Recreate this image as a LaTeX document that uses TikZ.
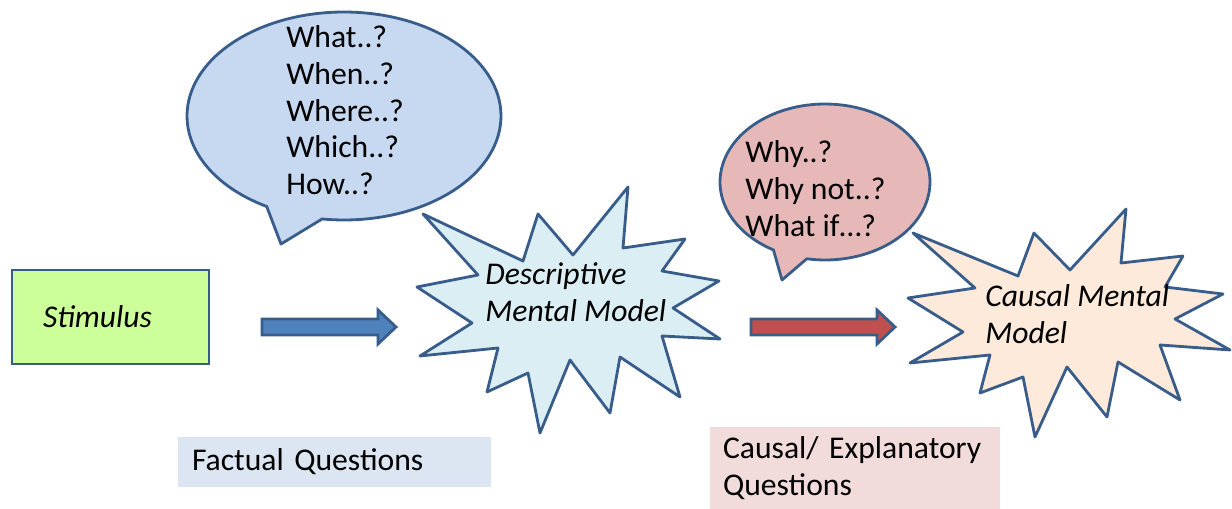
\documentclass[tikz,border=0pt]{standalone}
\usepackage{fontspec}
\setmainfont{Carlito}
\usetikzlibrary{calc}

\definecolor{outline}{HTML}{385D8A}
\definecolor{factblue}{HTML}{C6D9F1}
\definecolor{whypink}{HTML}{E6B9B8}
\definecolor{descfill}{HTML}{DBEEF4}
\definecolor{causfill}{HTML}{FDEADA}
\definecolor{stimgreen}{HTML}{CCFF99}
\definecolor{arrblue}{HTML}{4F81BD}
\definecolor{arrred}{HTML}{C0504D}
\definecolor{factlbl}{HTML}{DCE6F2}
\definecolor{causlbl}{HTML}{F2DCDB}

% fat block arrow from #2 to #3 (tip), style #1
\newcommand{\blockarrow}[3]{%
  \filldraw[#1] ($(#2)+(0,-8)$) -- ($(#3)+(-18,-8)$) -- ($(#3)+(-18,-17)$)
    -- (#3) -- ($(#3)+(-18,17)$) -- ($(#3)+(-18,8)$) -- ($(#2)+(0,8)$) -- cycle;}

\begin{document}
\begin{tikzpicture}[
  x=0.02cm, y=-0.02cm,
  font=\fontsize{18pt}{21pt}\selectfont,
  bubble/.style={draw=outline,line width=1.6pt,line join=round},
  burst/.style={draw=outline,line width=1.6pt,line join=round},
  qtext/.style={anchor=north west,align=left,inner sep=0pt},
  mtext/.style={qtext,font=\fontsize{18pt}{21pt}\selectfont\itshape},
  stimbox/.style={draw=outline,fill=stimgreen,line width=1.6pt,
    minimum width=3.94cm,minimum height=1.88cm,text width=2.7cm,
    inner xsep=0.62cm,align=left,font=\fontsize{18pt}{21pt}\selectfont\itshape},
  lblbox/.style={minimum height=#1,align=left,inner ysep=0pt},
  blockarr/.style={draw=outline,line width=1.6pt,line join=miter}
]
  \useasboundingbox (0,0) rectangle (1232,509);

  % speech bubbles
  \coordinate (fc) at (344,116);
  \coordinate (ftip) at (281,244);
  \filldraw[bubble,fill=factblue] ($(fc)+(262:3.14cm and 2.08cm)$)
    arc[start angle=262,end angle=600.5,x radius=3.14cm,y radius=2.08cm]
    -- (ftip) -- cycle;
  \node[qtext] (factlist) at (286,25)
    {What..?\\When..?\\Where..?\\Which..?\\How..?};

  \coordinate (wc) at (825,182);
  \coordinate (wtip) at (782,280);
  \filldraw[bubble,fill=whypink] ($(wc)+(260:2.1cm and 1.56cm)$)
    arc[start angle=260,end angle=600.6,x radius=2.1cm,y radius=1.56cm]
    -- (wtip) -- cycle;
  \node[qtext] (whylist) at (745,140)
    {Why..?\\Why not..?\\What if…?};

  % explosions
  \filldraw[burst,fill=descfill] (423,214) -- (523,261) -- (538,214)
    -- (573,255) -- (628,187) -- (623,248) -- (685,239) -- (662,271)
    -- (719,281) -- (673,308) -- (720,339) -- (662,336) -- (680,397)
    -- (620,357) -- (610,413) -- (570,360) -- (540,433) -- (528,373)
    -- (487,392) -- (498,348) -- (420,356) -- (472,323) -- (417,287)
    -- (478,275) -- cycle;
  \node[mtext] (descmodel) at (485,262) {Descriptive\\Mental Model};

  \filldraw[burst,fill=causfill] (913,233) -- (1018,276) -- (1034,233)
    -- (1070,270) -- (1126,209) -- (1121,263) -- (1183,256) -- (1165,287)
    -- (1223,294) -- (1175,319) -- (1230,350) -- (1160,345) -- (1180,400)
    -- (1118,362) -- (1107,417) -- (1067,367) -- (1035,437) -- (1023,377)
    -- (980,393) -- (990,355) -- (910,363) -- (963,332) -- (908,298)
    -- (975,288) -- cycle;
  \node[mtext] (causmodel) at (985,284) {Causal Mental\\Model};

  % stimulus and arrows
  \node[stimbox] (stimulus) at (110.5,317) {Stimulus};

  \coordinate (arr1s) at (262,327);
  \coordinate (arr1e) at (396,327);
  \blockarrow{blockarr,fill=arrblue}{arr1s}{arr1e}
  \coordinate (arr2s) at (751,327);
  \coordinate (arr2e) at (895,327);
  \blockarrow{blockarr,fill=arrred}{arr2s}{arr2e}

  % question labels
  \node[lblbox=1cm,fill=factlbl,text width=5.7cm,inner xsep=0.28cm]
    (factlabel) at (334.5,462) {Factual Questions};
  \node[lblbox=1.64cm,fill=causlbl,text width=5.28cm,inner xsep=0.26cm]
    (causlabel) at (855,468) {Causal/ Explanatory\\Questions};
\end{tikzpicture}
\end{document}
